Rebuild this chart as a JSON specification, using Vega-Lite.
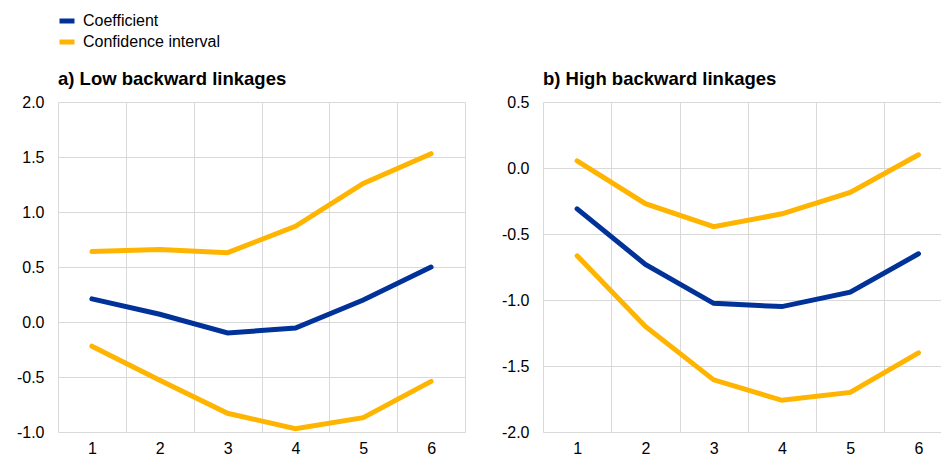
{
  "$schema": "https://vega.github.io/schema/vega-lite/v6.json",
  "padding": {"left": 16, "top": 11, "right": 0, "bottom": 0},
  "background": "white",
  "data": {"values": [
    {"panel": "a", "x": 1, "series": "Coefficient", "line": "coef", "y": 0.21},
    {"panel": "a", "x": 2, "series": "Coefficient", "line": "coef", "y": 0.07},
    {"panel": "a", "x": 3, "series": "Coefficient", "line": "coef", "y": -0.10},
    {"panel": "a", "x": 4, "series": "Coefficient", "line": "coef", "y": -0.055},
    {"panel": "a", "x": 5, "series": "Coefficient", "line": "coef", "y": 0.20},
    {"panel": "a", "x": 6, "series": "Coefficient", "line": "coef", "y": 0.50},
    {"panel": "a", "x": 1, "series": "Confidence interval", "line": "upper", "y": 0.64},
    {"panel": "a", "x": 2, "series": "Confidence interval", "line": "upper", "y": 0.66},
    {"panel": "a", "x": 3, "series": "Confidence interval", "line": "upper", "y": 0.63},
    {"panel": "a", "x": 4, "series": "Confidence interval", "line": "upper", "y": 0.87},
    {"panel": "a", "x": 5, "series": "Confidence interval", "line": "upper", "y": 1.26},
    {"panel": "a", "x": 6, "series": "Confidence interval", "line": "upper", "y": 1.53},
    {"panel": "a", "x": 1, "series": "Confidence interval", "line": "lower", "y": -0.22},
    {"panel": "a", "x": 2, "series": "Confidence interval", "line": "lower", "y": -0.53},
    {"panel": "a", "x": 3, "series": "Confidence interval", "line": "lower", "y": -0.83},
    {"panel": "a", "x": 4, "series": "Confidence interval", "line": "lower", "y": -0.97},
    {"panel": "a", "x": 5, "series": "Confidence interval", "line": "lower", "y": -0.87},
    {"panel": "a", "x": 6, "series": "Confidence interval", "line": "lower", "y": -0.54},
    {"panel": "b", "x": 1, "series": "Coefficient", "line": "coef", "y": -0.31},
    {"panel": "b", "x": 2, "series": "Coefficient", "line": "coef", "y": -0.73},
    {"panel": "b", "x": 3, "series": "Coefficient", "line": "coef", "y": -1.025},
    {"panel": "b", "x": 4, "series": "Coefficient", "line": "coef", "y": -1.05},
    {"panel": "b", "x": 5, "series": "Coefficient", "line": "coef", "y": -0.94},
    {"panel": "b", "x": 6, "series": "Coefficient", "line": "coef", "y": -0.65},
    {"panel": "b", "x": 1, "series": "Confidence interval", "line": "upper", "y": 0.054},
    {"panel": "b", "x": 2, "series": "Confidence interval", "line": "upper", "y": -0.27},
    {"panel": "b", "x": 3, "series": "Confidence interval", "line": "upper", "y": -0.445},
    {"panel": "b", "x": 4, "series": "Confidence interval", "line": "upper", "y": -0.347},
    {"panel": "b", "x": 5, "series": "Confidence interval", "line": "upper", "y": -0.185},
    {"panel": "b", "x": 6, "series": "Confidence interval", "line": "upper", "y": 0.10},
    {"panel": "b", "x": 1, "series": "Confidence interval", "line": "lower", "y": -0.665},
    {"panel": "b", "x": 2, "series": "Confidence interval", "line": "lower", "y": -1.20},
    {"panel": "b", "x": 3, "series": "Confidence interval", "line": "lower", "y": -1.605},
    {"panel": "b", "x": 4, "series": "Confidence interval", "line": "lower", "y": -1.76},
    {"panel": "b", "x": 5, "series": "Confidence interval", "line": "lower", "y": -1.70},
    {"panel": "b", "x": 6, "series": "Confidence interval", "line": "lower", "y": -1.40}
  ]},
  "spacing": 36,
  "hconcat": [
    {
      "width": 407,
      "height": 330,
      "title": {"text": "a) Low backward linkages"},
      "transform": [{"filter": "datum.panel === 'a'"}],
      "mark": {"type": "line", "strokeWidth": 5, "strokeCap": "round"},
      "encoding": {
        "x": {"field": "x", "type": "quantitative",
              "scale": {"domain": [0.5, 6.5], "nice": false, "zero": false},
              "axis": {"values": [0.5, 1, 1.5, 2, 2.5, 3, 3.5, 4, 4.5, 5, 5.5, 6, 6.5],
                       "labelExpr": "datum.value % 1 === 0 ? '' + datum.value : ''",
                       "gridOpacity": {"condition": {"test": "datum.value % 1 !== 0", "value": 1}, "value": 0}}},
        "y": {"field": "y", "type": "quantitative",
              "scale": {"domain": [-1, 2], "nice": false, "zero": false},
              "axis": {"values": [-1, -0.5, 0, 0.5, 1, 1.5, 2], "format": ".1f",
                       "labelExpr": "replace(datum.label, '−', '-')"}},
        "color": {"field": "series", "type": "nominal",
                  "scale": {"domain": ["Coefficient", "Confidence interval"], "range": ["#003299", "#FFB400"]},
                  "legend": {"orient": "none", "legendX": -1, "legendY": -91}},
        "detail": {"field": "line"}
      }
    },
    {
      "width": 398,
      "height": 330,
      "title": {"text": "b) High backward linkages"},
      "transform": [{"filter": "datum.panel === 'b'"}],
      "mark": {"type": "line", "strokeWidth": 5, "strokeCap": "round"},
      "encoding": {
        "x": {"field": "x", "type": "quantitative",
              "scale": {"domain": [0.5, 6.33], "nice": false, "zero": false},
              "axis": {"values": [0.5, 1, 1.5, 2, 2.5, 3, 3.5, 4, 4.5, 5, 5.5, 6],
                       "labelExpr": "datum.value % 1 === 0 ? '' + datum.value : ''",
                       "gridOpacity": {"condition": {"test": "datum.value % 1 !== 0", "value": 1}, "value": 0}}},
        "y": {"field": "y", "type": "quantitative",
              "scale": {"domain": [-2, 0.5], "nice": false, "zero": false},
              "axis": {"values": [-2, -1.5, -1, -0.5, 0, 0.5], "format": ".1f",
                       "labelExpr": "replace(datum.label, '−', '-')"}},
        "color": {"field": "series", "type": "nominal",
                  "scale": {"domain": ["Coefficient", "Confidence interval"], "range": ["#003299", "#FFB400"]},
                  "legend": {"orient": "none", "legendX": -1, "legendY": -91}},
        "detail": {"field": "line"}
      }
    }
  ],
  "config": {
    "view": {"stroke": null},
    "font": "Liberation Sans",
    "title": {"anchor": "start", "frame": "group", "fontSize": 18.5, "fontWeight": "bold", "font": "Liberation Sans", "color": "#000", "offset": 6},
    "axis": {"domain": false, "ticks": false, "title": null, "gridColor": "#d9d9d9", "gridWidth": 1,
             "labelFont": "Liberation Sans", "labelFontSize": 16, "labelColor": "#000", "labelFlush": false},
    "axisX": {"labelPadding": 8},
    "axisY": {"labelPadding": 14},
    "legend": {"title": null, "symbolType": "stroke", "symbolStrokeWidth": 5, "symbolSize": 225,
               "labelFont": "Liberation Sans", "labelFontSize": 16, "labelColor": "#000", "rowPadding": 1, "labelOffset": 6}
  }
}
